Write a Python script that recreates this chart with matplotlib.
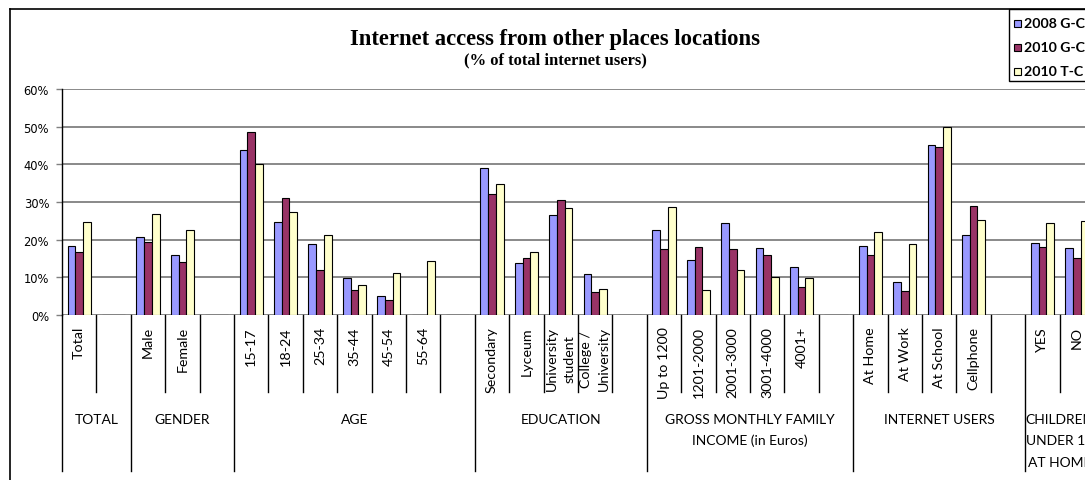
import numpy as np
import matplotlib
matplotlib.use("Agg")
import matplotlib.pyplot as plt
from matplotlib.patches import Rectangle
from matplotlib.lines import Line2D
import matplotlib.transforms as mtransforms
from matplotlib.ticker import PercentFormatter

# ---------------- data ----------------
categories = ["Total", "", "Male", "Female", "",
              "15-17", "18-24", "25-34", "35-44", "45-54", "55-64", "",
              "Secondary", "Lyceum", "University\nstudent", "College /\nUniversity", "",
              "Up to 1200", "1201-2000", "2001-3000", "3001-4000", "4001+", "",
              "At Home", "At Work", "At School", "Cellphone", "",
              "YES", "NO"]
groups = ["TOTAL"] * 2 + ["GENDER"] * 3 + ["AGE"] * 7 + ["EDUCATION"] * 5 + \
         ["GROSS MONTHLY FAMILY\nINCOME (in Euros)"] * 6 + \
         ["INTERNET USERS"] * 5 + \
         ["CHILDREN\nUNDER 18\nAT HOME"] * 2
series_names = ["2008 G-C", "2010 G-C", "2010 T-C"]
v2008_gc = [18.2, 0, 20.8, 15.8, 0,
            43.7, 24.7, 18.8, 9.8, 5.0, 0, 0,
            38.9, 13.7, 26.6, 11.0, 0,
            22.5, 14.5, 24.3, 17.7, 12.7, 0,
            18.2, 8.7, 45.1, 21.3, 0,
            19.0, 17.7]
v2010_gc = [16.8, 0, 19.3, 14.0, 0,
            48.5, 31.0, 12.0, 6.7, 3.9, 0, 0,
            32.2, 15.2, 30.6, 6.2, 0,
            17.4, 18.0, 17.4, 15.8, 7.4, 0,
            15.8, 6.5, 44.6, 28.9, 0,
            18.0, 15.1]
v2010_tc = [24.7, 0, 26.9, 22.5, 0,
            40.2, 27.3, 21.3, 7.9, 11.2, 14.3, 0,
            34.8, 16.6, 28.3, 7.0, 0,
            28.6, 6.7, 12.0, 10.2, 9.8, 0,
            22.1, 18.8, 50.0, 25.3, 0,
            24.3, 25.0]
title = "Internet access from other places locations"
subtitle = "(% of total internet users)"

# ---------------- styling ----------------
colors = ["#9999FF", "#993366", "#FFFFCC"]
W, H = 1085, 481
def fx(px): return px / W
def fy(py): return 1 - py / H

cat_font = ["Lato", "DejaVu Sans"]

fig = plt.figure(figsize=(W / 100, H / 100), dpi=100)
fig.patch.set_facecolor("white")

slot = 34.4
nslots = 30
ax = fig.add_axes([fx(62), fy(316), nslots * slot / W, 226 / H])
ax.set_xlim(-0.5, nslots - 0.5)
ax.set_ylim(0, 60)

x = np.arange(len(categories))
bw = 0.224
for i, (vals, c) in enumerate(zip([v2008_gc, v2010_gc, v2010_tc], colors)):
    ax.bar(x + (i - 1) * bw, vals, width=bw, color=c, edgecolor="black",
           linewidth=0.8, zorder=3, label=series_names[i])

ax.set_yticks(np.arange(0, 61, 10))
ax.yaxis.set_major_formatter(PercentFormatter(decimals=0))
ax.tick_params(axis="y", length=4.3, width=1, color="#808080", pad=5,
               labelsize=8.3, labelcolor="black")
ax.yaxis.grid(True, color="#808080", linewidth=1.3, zorder=0)
ax.set_axisbelow(True)
for s in ["top", "right", "bottom"]:
    ax.spines[s].set_visible(False)
ax.spines["left"].set_color("black")
ax.spines["left"].set_linewidth(1)

ax.set_xticks(x)
ax.set_xticklabels(categories, rotation=90, fontsize=10.3, family=cat_font,
                   multialignment="center", linespacing=1.55)
ax.tick_params(axis="x", length=0, pad=8)

# separators below category axis
blend = mtransforms.blended_transform_factory(ax.transData, fig.transFigure)
for k in range(1, nslots):
    long_line = groups[k] != groups[k - 1] if k < len(groups) else True
    y_end = 472 if long_line else 393
    ax.add_line(Line2D([k - 0.5, k - 0.5], [fy(316), fy(y_end)], transform=blend,
                       color="black", linewidth=1, clip_on=False))
ax.add_line(Line2D([-0.5, -0.5], [fy(316), fy(472)], transform=blend,
                   color="black", linewidth=1, clip_on=False))

# group labels
start = 0
for k in range(1, len(groups) + 1):
    if k == len(groups) or groups[k] != groups[start]:
        cx = (start + k - 1) / 2
        for j, line in enumerate(groups[start].split("\n")):
            ax.text(cx, fy(424 + j * 21.5), line, transform=blend, ha="center",
                    va="baseline", fontsize=10, family=cat_font, clip_on=False)
        start = k

# chart border
fig.add_artist(Line2D([fx(9.5), fx(9.5)], [fy(9.5), fy(490)], color="black", linewidth=1.2))
fig.add_artist(Line2D([fx(9.5), fx(1100)], [fy(9.5), fy(9.5)], color="black", linewidth=1.2))

# title
fig.text(fx(554.5), fy(45), title, ha="center", va="baseline", fontsize=16.3,
         fontweight="bold", family="Liberation Serif")
fig.text(fx(555), fy(64), subtitle, ha="center", va="baseline", fontsize=12,
         fontweight="bold", family="Liberation Serif")

# legend
fig.add_artist(Rectangle((fx(1008.5), fy(82)), 200 / W, 72.5 / H, transform=fig.transFigure,
                         facecolor="white", edgecolor="black", linewidth=1))
for i, (name, c) in enumerate(zip(series_names, colors)):
    yc = [24, 48, 72][i]
    fig.add_artist(Rectangle((fx(1014), fy(yc + 3.5)), 7 / W, 7 / H, transform=fig.transFigure,
                             facecolor=c, edgecolor="black", linewidth=0.8))
    fig.text(fx(1024), fy(yc), name, ha="left", va="center", fontsize=10.2,
             fontweight="bold", family=cat_font)

fig.savefig("out.png", dpi=100)
